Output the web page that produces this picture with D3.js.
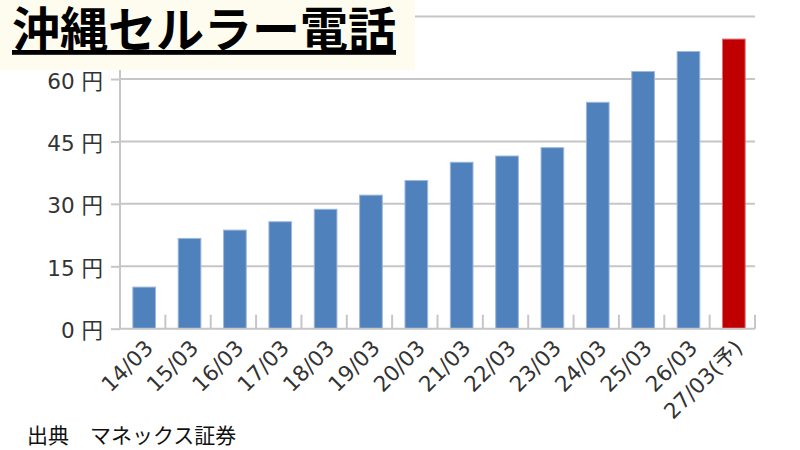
<!DOCTYPE html>
<html>
<head>
<meta charset="utf-8">
<script src="https://cdn.jsdelivr.net/npm/d3@7"></script>
<style>
  body { margin: 0; background: #fff; }
  text { font-family: "Noto Sans CJK JP", "Noto Sans", sans-serif; }
  .lbl { font-family: "DejaVu Sans", "Noto Sans CJK JP", sans-serif; }
</style>
</head>
<body>
<script>
// data
var periods = ['14/03','15/03','16/03','17/03','18/03','19/03','20/03','21/03','22/03','23/03','24/03','25/03','26/03','27/03(予)'];
var eps = [10, 21.7, 23.7, 25.7, 28.7, 32.1, 35.6, 40.0, 41.5, 43.5, 54.4, 61.8, 66.6, 69.6];
var forecast = [false,false,false,false,false,false,false,false,false,false,false,false,false,true];
var yTicks = [0, 15, 30, 45, 60, 75];
var title = '沖縄セルラー電話';
var source = '出典　マネックス証券';

var w = 800, h = 450;
var plotLeft = 120, plotRight = 755, plotTop = 16.6, plotBottom = 328.7;

var svg = d3.select('body').append('svg')
  .attr('width', w)
  .attr('height', h);

var x = d3.scaleBand()
  .domain(periods)
  .range([plotLeft, plotRight])
  .paddingInner(0.5)
  .paddingOuter(0.25);

var y = d3.scaleLinear()
  .domain([0, 75])
  .range([plotBottom, plotTop]);

//GRIDLINES
svg.append('g')
  .selectAll('line')
  .data(yTicks.filter(function(d){ return d > 0; }))
  .join('line')
  .attr('x1', plotLeft)
  .attr('x2', plotRight)
  .attr('y1', function(d){ return y(d); })
  .attr('y2', function(d){ return y(d); })
  .attr('stroke', '#c6c6c6')
  .attr('stroke-width', 2);

//BARS
svg.append('g')
  .selectAll('rect')
  .data(eps)
  .join('rect')
  .attr('x', function(d, i){ return x(periods[i]) + 1.5; })
  .attr('y', function(d){ return y(d); })
  .attr('width', x.bandwidth())
  .attr('height', function(d){ return y(0) - y(d); })
  .attr('fill', function(d, i){ return forecast[i] ? '#c00000' : '#4f81bd'; })
  .attr('stroke', function(d, i){ return forecast[i] ? '#e07070' : '#9cb8dc'; })
  .attr('stroke-width', 1);

//Y AXIS (the 75 label sits under the title box, so it is left out)
var yAxis = svg.append('g')
  .attr('transform', 'translate(' + plotLeft + ',0)')
  .call(d3.axisLeft(y).tickValues(yTicks).tickSize(9).tickPadding(8)
    .tickFormat(function(d){ return d < 75 ? d + ' 円' : ''; }));
yAxis.select('.domain').attr('stroke', '#c6c6c6').attr('stroke-width', 2)
  .attr('d', 'M0,' + plotTop + 'V' + plotBottom);
yAxis.selectAll('.tick line').attr('stroke', '#c6c6c6').attr('stroke-width', 2);
yAxis.selectAll('.tick text')
  .attr('class', 'lbl')
  .attr('fill', '#333')
  .attr('dy', '0.42em')
  .style('font-size', '21.5px');

//X AXIS LINE + CATEGORY TICKS (pointing up)
svg.append('line')
  .attr('x1', plotLeft).attr('x2', plotRight)
  .attr('y1', plotBottom).attr('y2', plotBottom)
  .attr('stroke', '#c6c6c6').attr('stroke-width', 2);

svg.append('g')
  .selectAll('line')
  .data(periods)
  .join('line')
  .attr('x1', function(d){ return x(d) - x.step() * 0.25 + x.step(); })
  .attr('x2', function(d){ return x(d) - x.step() * 0.25 + x.step(); })
  .attr('y1', plotBottom - 14)
  .attr('y2', plotBottom)
  .attr('stroke', '#c6c6c6')
  .attr('stroke-width', 2);

//X LABELS rotated
svg.append('g')
  .selectAll('text')
  .data(periods)
  .join('text')
  .attr('class', 'lbl')
  .attr('transform', function(d){
    var cx = x(d) + x.bandwidth() / 2 + 1;
    return 'translate(' + cx + ',' + (plotBottom + 10) + ') rotate(-45)';
  })
  .attr('text-anchor', 'end')
  .attr('dy', '0.7em')
  .attr('fill', '#333')
  .style('font-size', '21.5px')
  .text(function(d){ return d; });

//TITLE BOX
svg.append('rect')
  .attr('x', 0).attr('y', 0)
  .attr('width', 415).attr('height', 70)
  .attr('fill', '#fdfcee');

svg.append('text')
  .attr('x', 12)
  .attr('y', 47)
  .attr('fill', '#000')
  .style('font-size', '48px')
  .style('font-weight', 'bold')
  .style('text-decoration', 'underline')
  .text(title);

//SOURCE
svg.append('text')
  .attr('x', 27)
  .attr('y', 443)
  .attr('fill', '#111')
  .style('font-size', '21px')
  .text(source);
</script>
</body>
</html>
